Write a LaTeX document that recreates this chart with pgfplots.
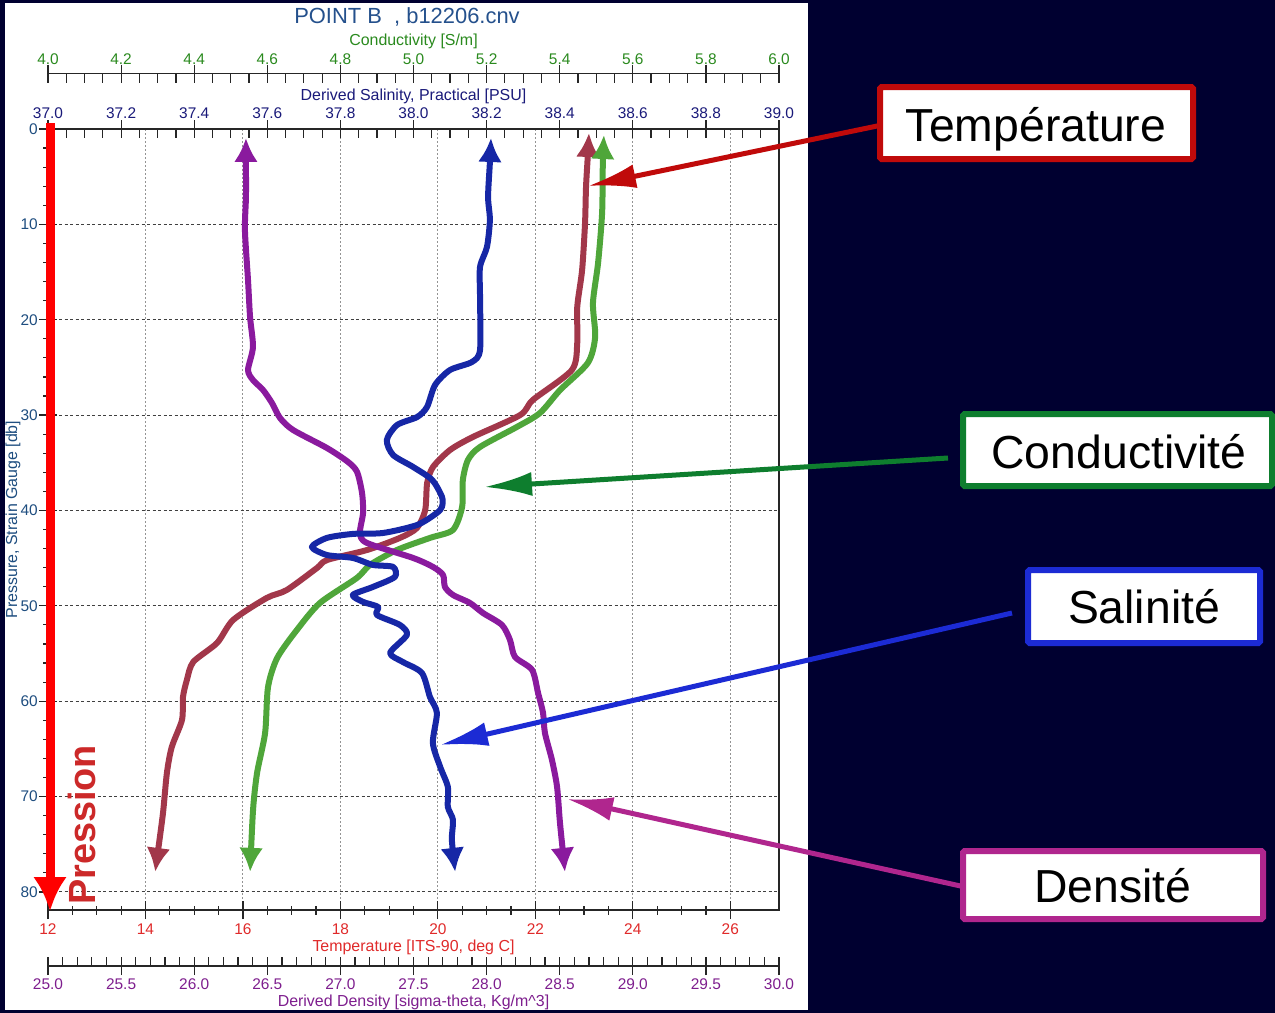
\documentclass[border=0pt]{standalone}
\usepackage{pgfplots}
\pgfplotsset{compat=1.18}
\usepackage{fontspec}
\setmainfont{Liberation Sans}
\usetikzlibrary{arrows.meta}

\definecolor{bgnavy}{HTML}{000030}
\definecolor{titleblue}{HTML}{24508C}
\definecolor{presblue}{HTML}{1F4E80}
\definecolor{condgreen}{HTML}{2A8A1E}
\definecolor{salnavy}{HTML}{1A1A7A}
\definecolor{tempred}{HTML}{E02A2A}
\definecolor{denspurple}{HTML}{7E1E8E}
\definecolor{tempcurve}{HTML}{A2374A}
\definecolor{condcurve}{HTML}{4FA63A}
\definecolor{salcurve}{HTML}{1627A6}
\definecolor{denscurve}{HTML}{8A1A9E}
\definecolor{annred}{HTML}{C00A0A}
\definecolor{anngreen}{HTML}{0E7E2E}
\definecolor{annblue}{HTML}{1C2BD4}
\definecolor{annmag}{HTML}{B0268E}
\definecolor{pressred}{HTML}{FF0000}
\definecolor{presstext}{HTML}{CC2929}

\newcommand{\tk}{\fontsize{15.5}{18}\selectfont}
\newcommand{\lb}{\fontsize{16}{19}\selectfont}

\pgfplotsset{
  mainbox/.style={
    at={(48bp,-910bp)}, anchor=south west,
    width=731bp, height=781bp, scale only axis,
    ymin=0, ymax=81.9, y dir=reverse, clip=false,
  },
  thinaxis/.style={
    width=731bp, height=1bp, scale only axis,
    ymin=0, ymax=1, axis y line=none, ytick=\empty,
    tick align=inside, major tick length=18bp, minor tick length=9bp,
    axis line style={line width=1.3bp, black!85},
    tick style={line width=1.2bp, black!85},
  },
  onedec/.style={
    /pgf/number format/fixed, /pgf/number format/fixed zerofill,
    /pgf/number format/precision=1, /pgf/number format/assume math mode=true,
  },
  curve/.style={line width=6bp, line join=round, smooth, tension=0.45,
    arrows={Latex[length=24bp,width=24bp]-Latex[length=24bp,width=24bp]}},
}

\begin{document}
\begin{tikzpicture}
\useasboundingbox (0,0) rectangle (1275bp,-1013bp);
\fill[bgnavy] (0,0) rectangle (1275bp,-1013bp);
\fill[white] (5bp,-3bp) rectangle (808bp,-1010bp);

% temperature axis, pressure axis, grid
\begin{axis}[mainbox,
  xmin=12, xmax=27,
  xtick={12,14,...,26}, minor x tick num=3,
  ytick={0,10,...,80}, minor y tick num=4,
  xtick pos=left, ytick pos=left,
  tick align=center, major tick length=18bp, minor tick length=9bp,
  /pgf/number format/assume math mode=true,
  grid=major,
  x grid style={gray!85, line width=1.1bp, dash pattern=on 2bp off 2bp},
  y grid style={black!75, line width=1.1bp, dash pattern=on 3bp off 2.5bp},
  axis line style={line width=1.3bp, black!85},
  tick style={line width=1.2bp, black!85},
  xticklabel style={font=\tk, text=tempred, inner sep=0pt, anchor=center, yshift=-10bp},
  yticklabel style={font=\tk, text=presblue, inner sep=0pt, anchor=east, xshift=-1bp},
  xlabel={Temperature [ITS-90, deg C]},
  xlabel style={font=\lb, text=tempred, at={(axis description cs:0.5,0)}, anchor=center, yshift=-37bp},
  ylabel={Pressure, Strain Gauge [db]},
  ylabel style={font=\lb, text=presblue, at={(axis description cs:-0.0479,0.5)}, anchor=center},
]
\addplot[curve, tempcurve] coordinates {
  (23.10,0.42) (23.08,2.52) (23.04,6.08) (23.02,9.86) (22.96,14.78)
  (22.86,18.66) (22.86,22.44) (22.75,25.27) (21.95,28.41) (21.69,29.99)
  (20.72,32.29) (20.25,33.66) (19.90,35.44) (19.78,37.12) (19.74,39.95)
  (19.57,41.84) (19.22,42.88) (18.55,44.14) (17.73,45.19) (17.52,46.03)
  (16.90,48.34) (16.49,49.17) (15.80,51.48) (15.47,53.89) (14.98,55.89)
  (14.85,57.77) (14.77,59.55) (14.75,61.96) (14.54,64.80) (14.44,67.52)
  (14.36,71.72) (14.26,75.60) (14.20,77.90)
};
\end{axis}

% conductivity curve
\begin{axis}[mainbox, hide axis, xmin=4, xmax=6]
\addplot[curve, condcurve] coordinates {
  (5.521,0.63) (5.518,3.51) (5.516,8.81) (5.505,14.05) (5.491,18.24)
  (5.497,21.81) (5.477,24.53) (5.401,27.37) (5.346,29.78) (5.283,31.24)
  (5.182,33.34) (5.149,34.70) (5.135,36.80) (5.133,39.63) (5.108,42.04)
  (5.045,42.88) (4.955,44.14) (4.881,45.71) (4.845,47.08) (4.744,49.70)
  (4.681,52.53) (4.627,55.47) (4.602,58.51) (4.594,63.33) (4.572,67.52)
  (4.561,71.40) (4.553,77.90)
};
\end{axis}

% density curve
\begin{axis}[mainbox, hide axis, xmin=25, xmax=30]
\addplot[curve, denscurve] coordinates {
  (26.354,0.94) (26.354,3.51) (26.354,7.13) (26.347,10.59) (26.368,15.83)
  (26.382,19.71) (26.402,22.86) (26.368,25.27) (26.402,26.32) (26.471,27.37)
  (26.532,28.73) (26.587,30.30) (26.676,31.56) (26.908,33.45) (27.052,34.91)
  (27.114,35.96) (27.148,38.17) (27.155,40.26) (27.134,42.36) (27.182,43.41)
  (27.497,44.98) (27.633,45.92) (27.702,46.76) (27.715,48.02) (27.770,48.86)
  (27.886,49.70) (27.975,50.75) (28.105,52.01) (28.160,53.58) (28.194,55.36)
  (28.311,56.72) (28.352,59.14) (28.386,61.23) (28.399,63.33) (28.447,66.16)
  (28.482,68.99) (28.502,72.77) (28.536,77.90)
};
\end{axis}

% salinity axis (top) and curve
\begin{axis}[mainbox, xmin=37, xmax=39,
  axis x line*=top, axis y line=none, ytick=\empty,
  xtick={37.0,37.2,37.4,37.6,37.8,38.0,38.2,38.4,38.6,38.8,39.0},
  minor x tick num=3, onedec,
  tick align=inside, major tick length=18bp, minor tick length=9bp,
  major tick style={yshift=9bp},
  axis line style={line width=1.3bp, black!85},
  tick style={line width=1.2bp, black!85},
  xticklabel style={font=\tk, text=salnavy, inner sep=0pt, anchor=center, yshift=16bp},
  xlabel={Derived Salinity, Practical [PSU]},
  xlabel style={font=\lb, text=salnavy, at={(axis description cs:0.5,1)}, anchor=center, yshift=33bp},
]
\addplot[curve, salcurve] coordinates {
  (38.212,0.94) (38.209,3.51) (38.204,7.13) (38.209,9.54) (38.201,12.37)
  (38.182,14.47) (38.182,17.61) (38.182,23.17) (38.160,24.43) (38.100,25.27)
  (38.059,26.84) (38.037,29.15) (38.010,30.20) (37.955,31.04) (37.927,32.61)
  (37.944,34.18) (37.999,35.44) (38.051,36.80) (38.078,38.58) (38.078,39.60)
  (38.064,40.26) (38.010,41.52) (37.917,42.36) (37.834,42.46) (37.763,42.88)
  (37.722,43.83) (37.763,44.67) (37.834,44.98) (37.889,45.71) (37.944,45.92)
  (37.949,46.97) (37.889,48.02) (37.834,48.86) (37.862,49.59) (37.903,50.12)
  (37.900,50.96) (37.963,52.01) (37.982,53.05) (37.936,54.94) (37.971,55.89)
  (38.023,57.04) (38.045,59.56) (38.064,61.23) (38.053,64.38) (38.073,66.89)
  (38.094,68.99) (38.094,71.09) (38.108,72.45) (38.105,74.55) (38.114,77.90)
};
\end{axis}

% conductivity axis (outer top)
\begin{axis}[thinaxis, at={(48bp,-73.5bp)}, anchor=north west,
  xmin=4, xmax=6, axis x line*=top,
  xtick={4.0,4.2,4.4,4.6,4.8,5.0,5.2,5.4,5.6,5.8,6.0},
  minor x tick num=3, onedec,
  major tick style={yshift=9bp},
  xticklabel style={font=\tk, text=condgreen, inner sep=0pt, anchor=center, yshift=14.5bp},
  xlabel={Conductivity [S/m]},
  xlabel style={font=\lb, text=condgreen, at={(axis description cs:0.5,1)}, anchor=center, yshift=32bp},
]
\end{axis}

% density axis (outer bottom)
\begin{axis}[thinaxis, at={(48bp,-966bp)}, anchor=south west,
  xmin=25, xmax=30, axis x line*=bottom,
  xtick={25.0,25.5,26.0,26.5,27.0,27.5,28.0,28.5,29.0,29.5,30.0},
  minor x tick num=4, onedec,
  major tick style={yshift=-9bp},
  xticklabel style={font=\tk, text=denspurple, inner sep=0pt, anchor=center, yshift=-18bp},
  xlabel={Derived Density [sigma-theta, Kg/m\textasciicircum 3]},
  xlabel style={font=\lb, text=denspurple, at={(axis description cs:0.5,0)}, anchor=center, yshift=-36bp},
]
\end{axis}

\begin{scope}[x=1bp, y=-1bp]
  \node[font=\fontsize{22}{26}\selectfont, text=titleblue, inner sep=0pt] at (407,17) {POINT B\ \ , b12206.cnv};

  % pressure arrow
  \draw[pressred, line width=9bp, -{Latex[length=34bp,width=34bp]}] (50,123) -- (50,911);
  \node[rotate=90, font=\bfseries\fontsize{38}{40}\selectfont, text=presstext, inner sep=0pt] at (82,825) {Pression};

  % call-outs
  \draw[annred, line width=5bp, -{Latex[length=48bp,width=24bp]}] (882,125) -- (588,186);
  \draw[anngreen, line width=5bp, -{Latex[length=48bp,width=24bp]}] (948,458) -- (484,487);
  \draw[annblue, line width=5bp, -{Latex[length=48bp,width=24bp]}] (1012,613) -- (440,745);
  \draw[annmag, line width=5bp, -{Latex[length=46bp,width=24bp]}] (965,887) -- (567,799);

  \draw[annred, line width=6bp, fill=white, rounded corners=1.5bp] (880,87) rectangle (1193,159);
  \draw[anngreen, line width=6bp, fill=white, rounded corners=1.5bp] (963,414) rectangle (1272,486);
  \draw[annblue, line width=6bp, fill=white, rounded corners=1.5bp] (1028,570) rectangle (1260,643);
  \draw[annmag, line width=6bp, fill=white, rounded corners=1.5bp] (963,851) rectangle (1263,919);

  \begin{scope}[every node/.style={font=\fontsize{46.5}{50}\selectfont, inner sep=0pt, anchor=base}]
    \node at (1036,141) {Température};
    \node at (1119,468) {Conductivité};
    \node at (1144,623) {Salinité};
    \node at (1113,902) {Densité};
  \end{scope}
\end{scope}
\end{tikzpicture}
\end{document}
